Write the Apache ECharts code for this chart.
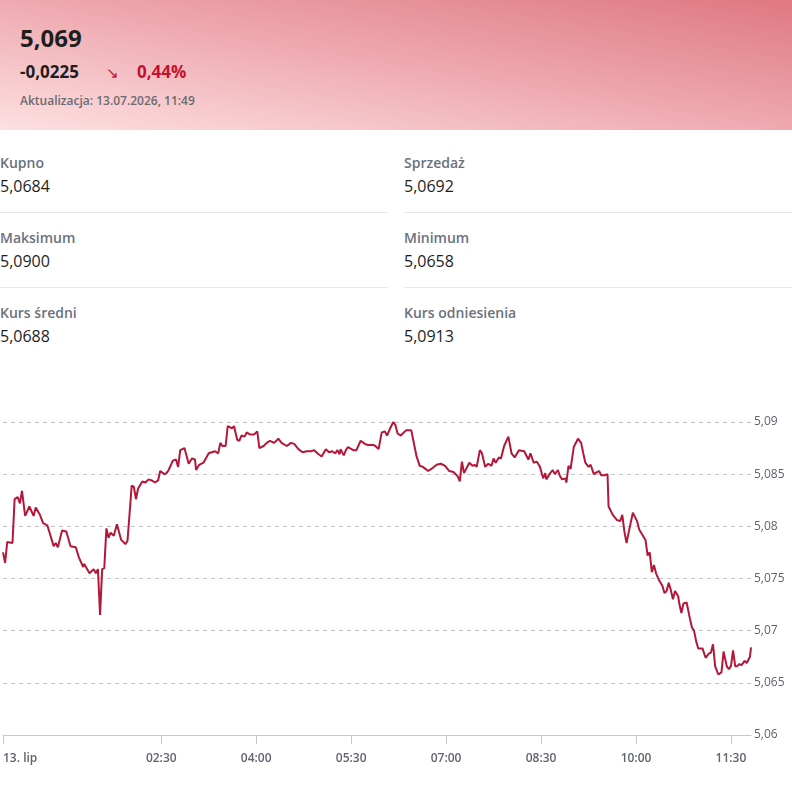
<!DOCTYPE html>
<html>
<head>
<meta charset="utf-8">
<script src="https://cdn.jsdelivr.net/npm/echarts@6.0.0/dist/echarts.min.js"></script>
<style>
  html, body { margin: 0; padding: 0; background: #fff; }
  body { width: 792px; height: 790px; position: relative; overflow: hidden; font-family: "Open Sans", sans-serif; }
  .head { position: absolute; left: 0; top: 0; width: 792px; height: 130px;
          background: linear-gradient(to top right, #fde0e2 0%, #eeaab0 50%, #df7881 100%); }
  .t { position: absolute; white-space: nowrap; }
  .rate { left: 20px; top: 22px; font-size: 24px; line-height: 32px; font-weight: 700; color: #1e1e1e; }
  .chg { left: 20px; top: 60px; font-size: 17px; line-height: 24px; font-weight: 700; color: #1e1e1e; }
  .arr { left: 106px; top: 60px; font-size: 15px; line-height: 24px; color: #c8102e; }
  .pct { left: 137px; top: 60px; font-size: 17px; line-height: 24px; font-weight: 700; color: #c8102e; }
  .upd { left: 20px; top: 93px; font-size: 12px; line-height: 16px; font-weight: 600; color: #6b6b70; }
  .lab { font-size: 14px; line-height: 20px; font-weight: 600; color: #6a7180; }
  .val { font-size: 16px; line-height: 22px; font-weight: 400; color: #1e1e1e; }
  .sep { position: absolute; height: 1px; background: #e8e8ea; }
  #chart { position: absolute; left: 0; top: 380px; width: 792px; height: 410px; }
</style>
</head>
<body>
<div class="head">
  <div class="t rate">5,069</div>
  <div class="t chg">-0,0225</div>
  <div class="t arr">&#8600;</div>
  <div class="t pct">0,44%</div>
  <div class="t upd">Aktualizacja: 13.07.2026, 11:49</div>
</div>

<div id="stats"></div>
<div id="chart"></div>

<script>
// stats block
var statLabels = ['Kupno', 'Sprzedaż', 'Maksimum', 'Minimum', 'Kurs średni', 'Kurs odniesienia'];
var statValues = ['5,0684', '5,0692', '5,0900', '5,0658', '5,0688', '5,0913'];

var stats = document.getElementById('stats');
var html = '';
for (var i = 0; i < statLabels.length; i++) {
  var col = i % 2, row = Math.floor(i / 2);
  var x = col === 0 ? 0 : 404;
  var y = 163 + row * 75;
  html += '<div class="t lab" style="left:' + x + 'px;top:' + (y - 10) + 'px">' + statLabels[i] + '</div>';
  html += '<div class="t val" style="left:' + x + 'px;top:' + (y + 12) + 'px">' + statValues[i] + '</div>';
  if (row < 2) {
    html += '<div class="sep" style="left:' + x + 'px;top:' + (y + 49) + 'px;width:388px"></div>';
  }
}
stats.innerHTML = html;

// minutes after midnight, 13.07
var times = [0, 2, 4, 9, 11, 14, 16, 18, 21, 25, 29, 31, 35, 38, 42, 48, 50, 52, 56, 60,
  64, 69, 72, 76, 77, 82, 86, 88, 90, 92, 94, 96, 98, 100, 102, 105, 108, 112, 116, 118,
  122, 124, 126, 128, 132, 135, 138, 141, 144, 147, 149, 153, 155, 157, 161, 164, 166, 168, 172, 176,
  179, 182, 183, 186, 190, 195, 198, 201, 204, 206, 208, 211, 213, 217, 219, 222, 224, 226, 229, 231,
  234, 238, 241, 243, 247, 250, 253, 257, 261, 264, 269, 273, 276, 280, 284, 288, 292, 295, 298, 302,
  306, 309, 312, 315, 317, 319, 320, 323, 325, 327, 332, 335, 339, 343, 346, 351, 353, 356, 359, 362,
  364, 367, 370, 372, 374, 377, 382, 387, 390, 392, 395, 398, 403, 406, 411, 415, 419, 423, 427, 431,
  433, 435, 437, 442, 445, 447, 449, 452, 454, 457, 460, 463, 465, 467, 470, 472, 475, 479, 482, 485,
  489, 494, 498, 500, 503, 506, 509, 512, 514, 515, 518, 521, 523, 526, 528, 530, 533, 534, 536, 538,
  541, 545, 548, 550, 552, 555, 557, 560, 563, 565, 567, 570, 573, 574, 578, 582, 585, 587, 589, 591,
  593, 597, 601, 603, 606, 609, 611, 613, 615, 617, 619, 622, 625, 627, 629, 631, 633, 635, 637, 640,
  641, 643, 645, 648, 651, 653, 655, 657, 659, 663, 666, 669, 671, 673, 675, 678, 681, 683, 686, 688,
  690, 692, 694, 696, 698, 700, 703, 705, 708, 709];

var rates = [5.0775, 5.0765, 5.0785, 5.0784, 5.0826, 5.0828, 5.0822, 5.0834, 5.0810, 5.0819, 5.0810, 5.0818, 5.0811, 5.0803, 5.0801, 5.0781, 5.0784, 5.0780, 5.0796, 5.0795,
  5.0781, 5.0780, 5.0770, 5.0761, 5.0764, 5.0755, 5.0759, 5.0755, 5.0759, 5.0715, 5.0759, 5.0760, 5.0798, 5.0789, 5.0794, 5.0791, 5.0802, 5.0787, 5.0783, 5.0786,
  5.0839, 5.0838, 5.0826, 5.0836, 5.0843, 5.0842, 5.0845, 5.0844, 5.0842, 5.0844, 5.0853, 5.0850, 5.0851, 5.0854, 5.0863, 5.0864, 5.0857, 5.0873, 5.0875, 5.0860,
  5.0865, 5.0864, 5.0854, 5.0859, 5.0861, 5.0870, 5.0871, 5.0872, 5.0870, 5.0880, 5.0877, 5.0877, 5.0896, 5.0894, 5.0896, 5.0883, 5.0882, 5.0887, 5.0886, 5.0890,
  5.0888, 5.0888, 5.0891, 5.0875, 5.0877, 5.0880, 5.0882, 5.0880, 5.0884, 5.0880, 5.0877, 5.0880, 5.0879, 5.0874, 5.0871, 5.0872, 5.0872, 5.0873, 5.0870, 5.0867,
  5.0874, 5.0871, 5.0872, 5.0870, 5.0873, 5.0869, 5.0874, 5.0868, 5.0873, 5.0876, 5.0873, 5.0873, 5.0882, 5.0879, 5.0878, 5.0878, 5.0877, 5.0874, 5.0890, 5.0891,
  5.0887, 5.0894, 5.0900, 5.0897, 5.0889, 5.0887, 5.0892, 5.0892, 5.0877, 5.0867, 5.0858, 5.0857, 5.0853, 5.0855, 5.0859, 5.0860, 5.0858, 5.0853, 5.0852, 5.0848,
  5.0843, 5.0862, 5.0851, 5.0861, 5.0858, 5.0859, 5.0857, 5.0873, 5.0870, 5.0857, 5.0860, 5.0858, 5.0865, 5.0861, 5.0866, 5.0865, 5.0877, 5.0886, 5.0870, 5.0866,
  5.0873, 5.0872, 5.0864, 5.0870, 5.0861, 5.0862, 5.0857, 5.0846, 5.0851, 5.0845, 5.0850, 5.0854, 5.0850, 5.0854, 5.0848, 5.0845, 5.0846, 5.0842, 5.0858, 5.0855,
  5.0876, 5.0884, 5.0880, 5.0870, 5.0861, 5.0857, 5.0859, 5.0850, 5.0852, 5.0853, 5.0849, 5.0849, 5.0850, 5.0819, 5.0811, 5.0806, 5.0805, 5.0811, 5.0795, 5.0784,
  5.0794, 5.0813, 5.0805, 5.0797, 5.0792, 5.0787, 5.0772, 5.0775, 5.0756, 5.0763, 5.0755, 5.0748, 5.0743, 5.0736, 5.0738, 5.0746, 5.0739, 5.0730, 5.0738, 5.0733,
  5.0726, 5.0717, 5.0726, 5.0727, 5.0712, 5.0703, 5.0700, 5.0690, 5.0683, 5.0683, 5.0674, 5.0678, 5.0679, 5.0687, 5.0666, 5.0658, 5.0660, 5.0680, 5.0666, 5.0663,
  5.0666, 5.0681, 5.0666, 5.0666, 5.0668, 5.0667, 5.0671, 5.0669, 5.0675, 5.0684];

var tickMinutes = [0, 150, 240, 330, 420, 510, 600, 690];
var dayLabel = '13. lip';

var seriesData = [];
for (var k = 0; k < times.length; k++) {
  seriesData.push([times[k], rates[k]]);
}

function pad(n) { return n < 10 ? '0' + n : '' + n; }

var myChart = echarts.init(document.getElementById('chart'));
var option = {
  animation: false,
  textStyle: { fontFamily: 'Open Sans' },
  grid: { left: 0, right: 41, top: 42, bottom: 55 },
  xAxis: {
    type: 'value',
    min: 0,
    max: 709,
    splitLine: { show: false },
    axisLine: { show: true, lineStyle: { color: '#c8c8cc', width: 1 } },
    axisTick: {
      show: true,
      length: 9,
      customValues: tickMinutes,
      lineStyle: { color: '#c8c8cc' }
    },
    axisLabel: {
      customValues: tickMinutes,
      margin: 18,
      color: '#5f6470',
      fontSize: 12,
      fontWeight: 600,
      alignMinLabel: 'left',
      formatter: function (v) {
        if (v === 0) return dayLabel;
        return pad(Math.floor(v / 60)) + ':' + pad(v % 60);
      }
    }
  },
  yAxis: {
    type: 'value',
    position: 'right',
    min: 5.06,
    max: 5.09,
    interval: 0.005,
    axisLine: { show: false },
    axisTick: { show: false },
    splitLine: { lineStyle: { color: '#c4c4c8', type: [4, 4], width: 1 } },
    axisLabel: {
      margin: 3,
      color: '#5f6470',
      fontSize: 12,
      formatter: function (v) {
        return (+v.toFixed(3)).toString().replace('.', ',');
      }
    }
  },
  series: [{
    type: 'line',
    data: seriesData,
    showSymbol: false,
    lineStyle: { color: '#b3173a', width: 2 },
    itemStyle: { color: '#b3173a' }
  }]
};
myChart.setOption(option);
</script>
</body>
</html>
